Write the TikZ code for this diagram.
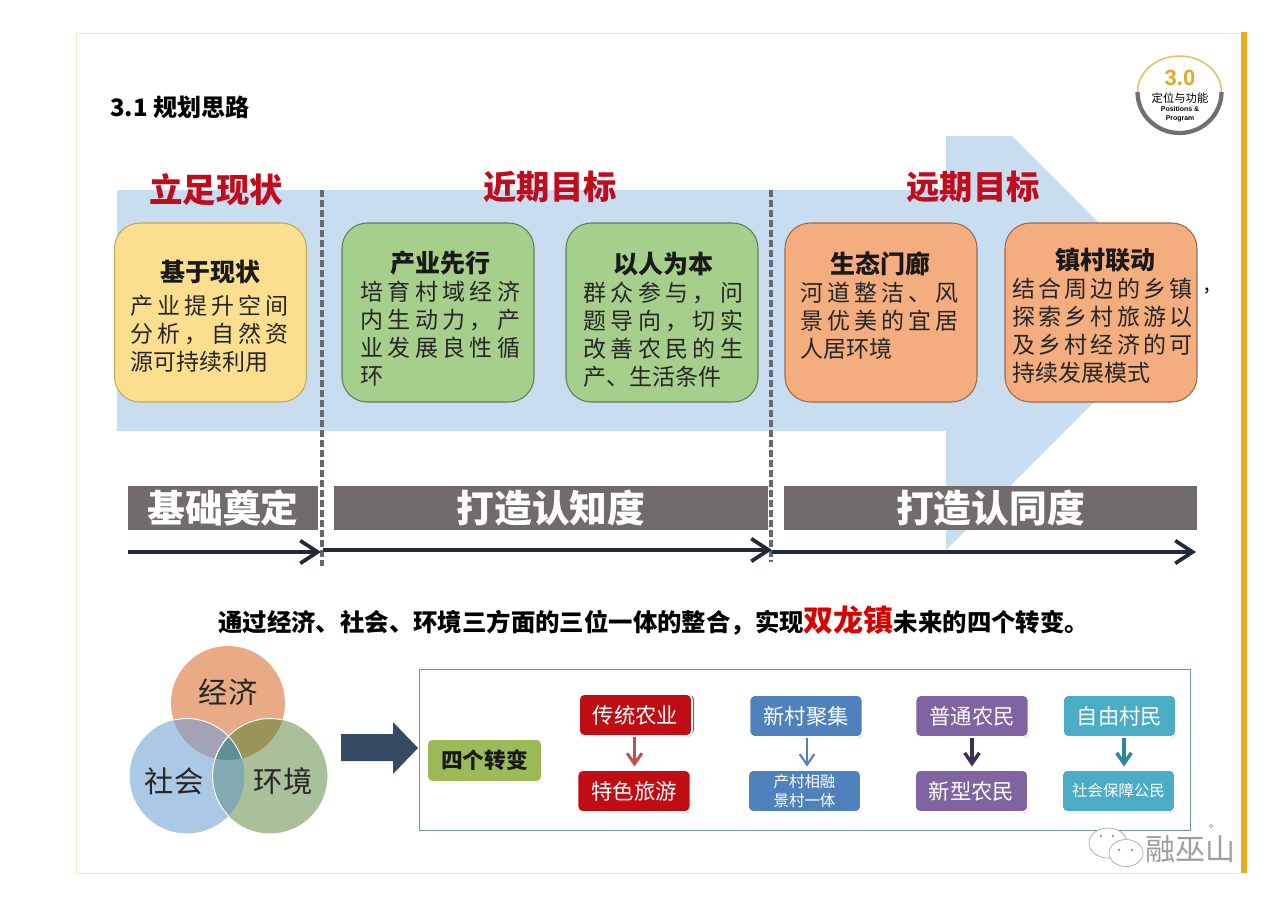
\documentclass[tikz,border=0pt]{standalone}
\usepackage{fontspec}
\setmainfont{Noto Sans CJK SC}
\newfontfamily\latinb{Liberation Sans}
\usetikzlibrary{arrows.meta,shadows}
\definecolor{panelblue}{HTML}{C9DDF0}
\definecolor{titlered}{HTML}{C00D1E}
\definecolor{bargray}{HTML}{726B6C}
\definecolor{timeline}{HTML}{202B3A}
\definecolor{dashgray}{HTML}{666A70}
\definecolor{frameyellow}{HTML}{F1EDBE}
\definecolor{sidebar}{HTML}{EDAB1E}
\definecolor{logogold}{HTML}{DEC05A}
\definecolor{logogray}{HTML}{707070}
\definecolor{lognum}{HTML}{E2A826}
\definecolor{yellowline}{HTML}{C4A85C}
\definecolor{yellowfill}{HTML}{FCDE8F}
\definecolor{greenline}{HTML}{54825C}
\definecolor{greenfill}{HTML}{A6CF8B}
\definecolor{orangeline}{HTML}{9C6B50}
\definecolor{orangefill}{HTML}{F4AD7F}
\definecolor{vtop}{HTML}{E8AB85}
\definecolor{vright}{HTML}{A9C09A}
\definecolor{vleft}{HTML}{ABC8E5}
\definecolor{vtl}{HTML}{A3A3B5}
\definecolor{vtr}{HTML}{9B9458}
\definecolor{vlr}{HTML}{82AAB2}
\definecolor{vall}{HTML}{609096}
\definecolor{blockarrow}{HTML}{364A63}
\definecolor{outerline}{HTML}{6F93A8}
\definecolor{tgreen}{HTML}{9BBB59}
\definecolor{tred}{HTML}{C00D13}
\definecolor{tblue}{HTML}{4F81BD}
\definecolor{tpurple}{HTML}{8064A2}
\definecolor{tteal}{HTML}{4BACC6}
\definecolor{ared}{HTML}{C0504D}
\definecolor{apurple}{HTML}{3F3151}
\definecolor{ateal}{HTML}{31859C}
\newcommand\lsp[2]{{\addfontfeature{LetterSpace=#1}#2}}
\newcommand\fsz[2]{\fontsize{#1}{#2}\selectfont}
\tikzset{
  x=0.75pt,y=-0.75pt,
  card/.style={draw=#1,line width=0.8pt,rounded corners=19pt,minimum width=144pt,minimum height=134.25pt,inner sep=0pt},
  cardhead/.style={font=\fsz{18.75}{22}\bfseries,text=black!90,inner sep=0pt},
  cardbody/.style={font=\fsz{17.25}{21},text=black!85,align=left,anchor=west,inner sep=0pt},
  sectitle/.style={font=\fsz{25}{30}\bfseries,text=titlered,inner sep=0pt},
  barbox/.style={fill=bargray,text=white,font=\fsz{28.3}{32}\bfseries,minimum height=33pt,inner sep=0pt},
  divider/.style={dashgray,line width=2.4pt,dash pattern=on 5.5pt off 2pt},
  timearrow/.style={timeline,line width=2.8pt,-{Straight Barb[length=13pt,width=17pt,line width=2.8pt]}},
  tile/.style={fill=#1,draw=white,line width=1.2pt,rounded corners=4pt,text=white,font=\fsz{16}{19},
    minimum width=84.75pt,minimum height=31.5pt,inner sep=0pt,align=center,
    copy shadow={fill=black!22,draw=none,shadow xshift=0.4pt,shadow yshift=-0.9pt}},
  tilearrow/.style 2 args={draw=#1,line width=#2,-{Straight Barb[length=8pt,width=11pt,line width=#2]},shorten >=2pt},
  vennlabel/.style={font=\fsz{22}{26},text=black!85,inner sep=0pt},
}
\begin{document}
\begin{tikzpicture}
\useasboundingbox (0,0) rectangle (1280,904);
\fill[white] (0,0) rectangle (1280,904);
% page frame
\draw[draw=frameyellow,line width=0.6pt] (76,33) rectangle (1241,873);
\fill[fill=sidebar] (1241,32) rectangle (1247,873);
\node[font=\fsz{18}{21}\bfseries,anchor=west,inner sep=0pt] (heading) at (110,107) {3.1 规划思路};
% logo
\draw[line width=1.1pt,draw=logogold] (1137.5,92) arc[start angle=180,end angle=360,x radius=42,y radius=36];
\draw[line width=3.2pt,draw=logogray] (1137.5,92) arc[start angle=180,end angle=0,x radius=42,y radius=41];
\node[font=\latinb\fsz{16.5}{16}\bfseries,text=lognum,inner sep=0pt] (logonum) at (1180,78) {3.0};
\node[font=\fsz{8.5}{9},inner sep=0pt] (logocn) at (1180,98) {定位与功能};
\node[font=\latinb\fsz{5.2}{6}\bfseries,inner sep=0pt] (logoen1) at (1180,109) {Positions \&};
\node[font=\latinb\fsz{5.2}{6}\bfseries,inner sep=0pt] (logoen2) at (1180,119) {Program};
% big pale arrow
\fill[panelblue] (117,190) -- (946,190) -- (946,136) -- (1012,136) -- (1186,310) -- (946,550) -- (946,431) -- (117,431) -- cycle;
% dividers
\coordinate (d1a) at (322,190); \coordinate (d1b) at (322,566);
\coordinate (d2a) at (771,190); \coordinate (d2b) at (771,562);
\draw[divider] (d1a) -- (d1b);
\draw[divider] (d2a) -- (d2b);
% section titles
\node[sectitle] (t1) at (216,190) {立足现状};
\node[sectitle] (t2) at (550,187) {近期目标};
\node[sectitle] (t3) at (973,187) {远期目标};
% cards
\node[card=yellowline,fill=yellowfill] (c1) at (210.5,312.5) {};
\node[card=greenline,fill=greenfill] (c2) at (438,312.5) {};
\node[card=greenline,fill=greenfill] (c3) at (662,312.5) {};
\node[card=orangeline,fill=orangefill] (c4) at (881,312.5) {};
\node[card=orangeline,fill=orangefill] (c5) at (1101,312.5) {};
\node[cardhead] (h1) at (210,272) {基于现状};
\node[cardhead] (h2) at (440,263) {产业先行};
\node[cardhead] (h3) at (663,264) {以人为本};
\node[cardhead] (h4) at (880,264) {生态门廊};
\node[cardhead] (h5) at (1105,260) {镇村联动};
\node[cardbody] (b1) at (130,333.5) {\lsp{18}{产业提升空间}\\\lsp{18}{分析，自然资}\\源可持续利用};
\node[cardbody] (b2) at (360,333.5) {\lsp{19}{培育村域经济}\\\lsp{19}{内生动力，产}\\\lsp{19}{业发展良性循}\\环};
\node[cardbody] (b3) at (583,335) {\lsp{19}{群众参与，问}\\\lsp{19}{题导向，切实}\\\lsp{19}{改善农民的生}\\产、生活条件};
\node[cardbody] (b4) at (800,321) {\lsp{18}{河道整洁、风}\\\lsp{18}{景优美的宜居}\\人居环境};
\node[cardbody] (b5) at (1012,330.5) {\lsp{14}{结合周边的乡镇}\\\lsp{14}{探索乡村旅游以}\\\lsp{14}{及乡村经济的可}\\持续发展模式};
\node[font=\fsz{15}{18},inner sep=0pt] (comma) at (1207,291) {,};
% grey bars
\node[barbox,minimum width=142.5pt] (g1) at (223,508) {基础奠定};
\node[barbox,minimum width=325.5pt] (g2) at (551,508) {打造认知度};
\node[barbox,minimum width=309.75pt] (g3) at (990.5,508) {打造认同度};
% timeline
\coordinate (a0) at (128,552); \coordinate (a1) at (321,552);
\coordinate (a2) at (323,550); \coordinate (a3) at (772,550);
\coordinate (a4) at (772,552); \coordinate (a5) at (1196,552);
\draw[timearrow] (a0) -- (a1);
\draw[timearrow] (a2) -- (a3);
\draw[timearrow] (a4) -- (a5);
% sentence
\node[font=\fsz{18.3}{21}\bfseries,anchor=west,inner sep=0pt] (sentence) at (218,621) {通过经济、社会、环境三方面的三位一体的整合，实现{\fontsize{22.5}{24}\selectfont\color{red!85!black}双龙镇}未来的四个转变。};
% venn
\def\cTop{(228,703) circle[radius=42.75pt]}
\def\cLeft{(187,776) circle[radius=43.1pt]}
\def\cRight{(270,776) circle[radius=43.1pt]}
\fill[fill=vtop] \cTop;
\fill[fill=vright] \cRight;
\fill[fill=vleft] \cLeft;
\begin{scope}\clip \cTop; \fill[fill=vtl] \cLeft; \end{scope}
\begin{scope}\clip \cTop; \fill[fill=vtr] \cRight; \end{scope}
\begin{scope}\clip \cLeft; \fill[fill=vlr] \cRight; \end{scope}
\begin{scope}\clip \cTop; \clip \cLeft; \fill[fill=vall] \cRight; \end{scope}
\begin{scope}\clip \cTop; \draw[white,line width=0.7pt] \cLeft; \draw[white,line width=0.7pt] \cRight; \end{scope}
\begin{scope}\clip \cLeft; \draw[white,line width=0.7pt] \cRight; \end{scope}
\node[vennlabel] (v1) at (228,692) {经济};
\node[vennlabel] (v2) at (174,781) {社会};
\node[vennlabel] (v3) at (283,781) {环境};
% block arrow
\fill[fill=blockarrow] (341,734) -- (393,734) -- (393,722) -- (418,748) -- (393,774) -- (393,761) -- (341,761) -- cycle;
% outer frame
\node[draw=outerline,line width=0.6pt,fill=white,minimum width=578.25pt,minimum height=120.75pt,inner sep=0pt] (frame) at (804.5,749.5) {};
\node[tile=tgreen,text=black!90,font=\fsz{16.3}{19}\bfseries,minimum width=86.25pt,minimum height=32.25pt] (four) at (484.5,760.5) {四个转变};
% tiles
\fill[ared,rounded corners=3pt] (670,695) rectangle (694,734);
\node[tile=tred] (p1) at (635.5,715) {传统农业};
\node[tile=tred] (q1) at (634,791) {特色旅游};
\node[tile=tblue] (p2) at (806,716) {新村聚集};
\node[tile=tblue,font=\fsz{11.6}{14.5}] (q2) at (804.5,791) {产村相融\\景村一体};
\node[tile=tpurple] (p3) at (972,716) {普通农民};
\node[tile=tpurple] (q3) at (971.5,791) {新型农民};
\node[tile=tteal] (p4) at (1119.5,716) {自由村民};
\node[tile=tteal,font=\fsz{11.6}{14}] (q4) at (1118.5,791) {社会保障公民};
\draw[tilearrow={ared}{2.2pt}] (p1.south -| 634.5,0) -- (q1.north -| 634.5,0);
\draw[tilearrow={tblue}{1.5pt}] (p2.south -| 807,0) -- (q2.north -| 807,0);
\draw[tilearrow={apurple}{2.6pt}] (p3.south -| 972,0) -- (q3.north -| 972,0);
\draw[tilearrow={ateal}{2.6pt}] (p4.south -| 1124,0) -- (q4.north -| 1124,0);
% watermark
\draw[black!35,fill=white,line width=0.5pt] (1108,843) ellipse[x radius=14.25pt,y radius=11.25pt];
\draw[black!35,fill=white,line width=0.5pt] (1126,853) ellipse[x radius=12.75pt,y radius=10.1pt];
\foreach \ex/\ey in {1101/836,1113/836,1119/850,1132/850}
  \fill[black!40] (\ex,\ey) circle[radius=1pt];
\node[font=\fsz{22.5}{26},text=black!38,inner sep=0pt] (mark) at (1190,849) {融巫山};
\draw[black!40,line width=0.5pt] (1211,826) circle[radius=1.3pt];
\end{tikzpicture}
\end{document}
